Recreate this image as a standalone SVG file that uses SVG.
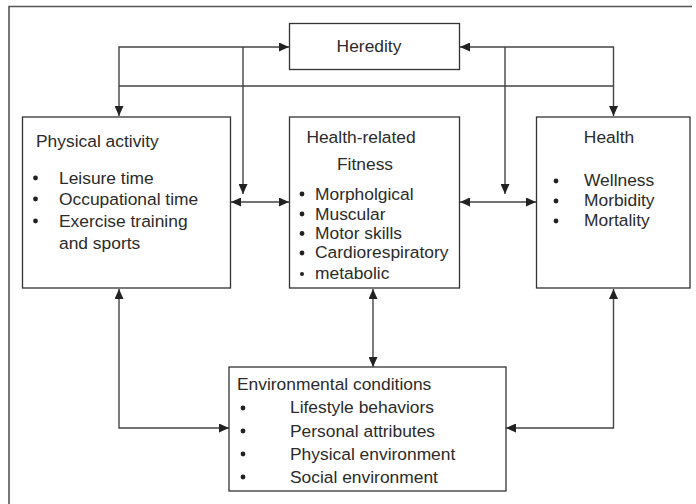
<svg xmlns="http://www.w3.org/2000/svg" width="696" height="504" viewBox="0 0 696 504">
<style>
.frame{fill:none;stroke:#555;stroke-width:1.6}
.box{fill:#fff;stroke:#333;stroke-width:1.3}
.t{font-family:"Liberation Sans",Arial,Helvetica,sans-serif;font-size:17.4px;fill:#2b2b2b}
.b{fill:#222}
.c{fill:none;stroke:#444;stroke-width:1.4}
.two{marker-start:url(#ah);marker-end:url(#ah)}
.one{marker-end:url(#ah)}
</style>
<defs>
<marker id="ah" markerUnits="userSpaceOnUse" markerWidth="11" markerHeight="9" refX="10" refY="4.5" orient="auto-start-reverse" viewBox="0 0 11 9">
<path d="M0,0 L10,4.5 L0,9 z" fill="#222"/>
</marker>
</defs>
<rect width="696" height="504" fill="#fff"/>
<path class="frame" d="M9,504 V6.5 H692"/>
<g id="connectors">
<path class="c two" d="M119,116 V47 H289"/>
<path class="c two" d="M613.5,116 V47 H460"/>
<path class="c" d="M119,86 H613.5"/>
<path class="c one" d="M243,47 V194"/>
<path class="c one" d="M505,47 V194"/>
<path class="c two" d="M231,202 H289"/>
<path class="c two" d="M460,202 H536"/>
<path class="c two" d="M119,289 V428 H229"/>
<path class="c two" d="M373,289 V367"/>
<path class="c two" d="M613.5,289 V428 H506"/>
</g>
<g id="heredity">
<rect class="box" x="289.5" y="23.5" width="170" height="46"/>
<text class="t" x="369" y="52" text-anchor="middle">Heredity</text>
</g>
<g id="physical-activity">
<rect class="box" x="22.5" y="117" width="208" height="171"/>
<text class="t" x="36" y="147">Physical activity</text>
<circle class="b" cx="35.5" cy="178" r="2.4"/>
<circle class="b" cx="35.5" cy="199" r="2.4"/>
<circle class="b" cx="35.5" cy="221" r="2.4"/>
<text class="t" x="59" y="184">Leisure time</text>
<text class="t" x="59" y="205">Occupational time</text>
<text class="t" x="59" y="227">Exercise training</text>
<text class="t" x="59" y="249">and sports</text>
</g>
<g id="health-related-fitness">
<rect class="box" x="289.5" y="117" width="170" height="171"/>
<text class="t" x="361" y="143" text-anchor="middle">Health-related</text>
<text class="t" x="365" y="170" text-anchor="middle">Fitness</text>
<circle class="b" cx="302" cy="194" r="2.4"/>
<circle class="b" cx="302" cy="214" r="2.4"/>
<circle class="b" cx="302" cy="233.5" r="2.4"/>
<circle class="b" cx="302" cy="253" r="2.4"/>
<circle class="b" cx="302" cy="274" r="2"/>
<text class="t" x="315" y="200">Morpholgical</text>
<text class="t" x="315" y="220">Muscular</text>
<text class="t" x="315" y="239">Motor skills</text>
<text class="t" x="315" y="258">Cardiorespiratory</text>
<text class="t" x="315" y="279">metabolic</text>
</g>
<g id="health">
<rect class="box" x="536.5" y="117" width="153.5" height="171"/>
<text class="t" x="609" y="143" text-anchor="middle">Health</text>
<circle class="b" cx="556" cy="181" r="2.4"/>
<circle class="b" cx="556" cy="201" r="2.4"/>
<circle class="b" cx="556" cy="221" r="2.4"/>
<text class="t" x="584" y="186">Wellness</text>
<text class="t" x="584" y="206">Morbidity</text>
<text class="t" x="584" y="226">Mortality</text>
</g>
<g id="environmental-conditions">
<rect class="box" x="229" y="367" width="277" height="124"/>
<text class="t" x="237" y="390">Environmental conditions</text>
<circle class="b" cx="243" cy="408" r="2.4"/>
<circle class="b" cx="243" cy="431" r="2.4"/>
<circle class="b" cx="243" cy="454" r="2.4"/>
<circle class="b" cx="243" cy="477" r="2.4"/>
<text class="t" x="290" y="413">Lifestyle behaviors</text>
<text class="t" x="290" y="437">Personal attributes</text>
<text class="t" x="290" y="460">Physical environment</text>
<text class="t" x="290" y="483">Social environment</text>
</g>
</svg>
